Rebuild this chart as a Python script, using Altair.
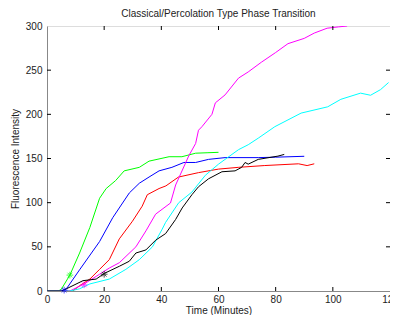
import altair as alt
import pandas as pd

green_t = [0, 4, 5, 8, 11.4, 15, 18.4, 20.7, 24, 27, 32.3, 35.7, 42.7, 47.2, 52, 56, 60]
green_v = [0, 0, 2, 18, 43, 72, 105, 116, 125, 136, 140, 147, 152, 152, 156, 156.5, 157]

blue_t = [0, 5, 6, 6.8, 11.4, 18.4, 23, 28.8, 32.3, 35.7, 39.2, 43.7, 47.9, 52, 56.5, 62.3, 73.9, 80, 90]
blue_v = [0, 0, 1, 2.5, 24, 56, 83, 111, 122, 129, 136, 140, 145.5, 145.5, 149, 151, 151, 151.5, 152.5]

red_t = [0, 9, 11.4, 15, 18.4, 21.8, 25.3, 29.9, 33.3, 35.1, 39.2, 41.6, 46, 53, 60, 67, 76, 88, 91, 93.5]
red_v = [0, 0, 6, 13.5, 24.5, 35.5, 59, 79, 96, 109, 116, 119, 129, 134, 138, 140, 142, 144, 142, 144]

magenta_t = [0, 8, 13, 18.4, 21.8, 25.3, 31.1, 34.6, 38, 43.2, 45, 49.6, 52, 53, 54.2, 57.7, 58.9, 62.3, 67, 70.4, 75, 80, 84.3, 90, 93.5, 98, 102, 105]
magenta_v = [0, 0, 8, 19, 26, 32, 50, 68, 87, 99.6, 120, 153, 167, 182, 186, 200, 213, 222, 241, 248, 259, 270, 280, 286, 292, 297.5, 299, 300]

cyan_t = [0, 8, 11.4, 15, 21.8, 27.6, 32.3, 36.9, 40.3, 41.5, 46.1, 50.7, 55.4, 60, 67, 70.4, 73.9, 79.7, 88.9, 98.2, 102.8, 109.7, 113.2, 116.7, 119.5]
cyan_v = [0, 0, 2.5, 8, 13.5, 24.5, 35.5, 50, 70, 77.7, 100, 112, 131, 143.6, 160, 165.6, 173, 186, 201.4, 208.5, 217, 224, 221.6, 228, 236]

black_t = [0, 5, 6.8, 12.6, 17.2, 20.1, 25.3, 28.8, 31.1, 34.6, 38, 41.5, 45, 47.3, 50.7, 53, 56.5, 61.2, 65.8, 68.1, 69.3, 70.4, 73.9, 80.8, 83]
black_v = [0, 0, 2.5, 11.7, 13.5, 20, 28, 33.7, 43, 46.5, 57.5, 65, 81, 94, 109, 118, 127, 135, 136, 140, 145.5, 143.6, 149, 152.7, 154.6]

marker_series = ["green", "blue", "magenta", "black"]
marker_t = [8, 6, 13, 20]
marker_v = [18, 1, 7, 19]

x_ticks = [0, 20, 40, 60, 80, 100, 120]
y_ticks = [0, 50, 100, 150, 200, 250, 300]

series = {
    "green": (green_t, green_v),
    "blue": (blue_t, blue_v),
    "red": (red_t, red_v),
    "magenta": (magenta_t, magenta_v),
    "cyan": (cyan_t, cyan_v),
    "black": (black_t, black_v),
}
colors = {"green": "#00ff00", "blue": "#0000ff", "red": "#ff0000",
          "magenta": "#ff00ff", "cyan": "#00ffff", "black": "#000000"}

rows = []
for name, (ts, vs) in series.items():
    for i, (t, v) in enumerate(zip(ts, vs)):
        rows.append({"s": name, "t": t, "v": v, "o": i})
df = pd.DataFrame(rows)
mk = pd.DataFrame({"s": marker_series, "t": marker_t, "v": marker_v})

W, H = 343, 265
font = "Liberation Sans"
txt = "#222222"

xs = alt.Scale(domain=[0, 120], nice=False)
ys = alt.Scale(domain=[0, 300], nice=False)
cs = alt.Scale(domain=list(colors.keys()), range=list(colors.values()))

lines = alt.Chart(df).mark_line(strokeWidth=1, clip=True).encode(
    x=alt.X("t:Q", scale=xs, axis=alt.Axis(values=x_ticks, title="Time (Minutes)", tickSize=0,
                                           labelPadding=3, titlePadding=1, grid=False, labelFlush=False,
                                           titleFontWeight=400, titleFont=font, labelFont=font,
                                           titleFontSize=10, labelFontSize=10,
                                           titleColor=txt, labelColor=txt)),
    y=alt.Y("v:Q", scale=ys, axis=alt.Axis(values=y_ticks, title="Fluorescence Intensity", tickSize=0,
                                           labelPadding=5, titlePadding=5, grid=False, labelFlush=False,
                                           titleFontWeight=400, titleFont=font, labelFont=font,
                                           titleFontSize=10, labelFontSize=10,
                                           titleColor=txt, labelColor=txt)),
    color=alt.Color("s:N", scale=cs, legend=None),
    order="o:Q",
    detail="s:N",
)

asterisk = "M-1,0L1,0M0,-1L0,1M-0.7,-0.7L0.7,0.7M-0.7,0.7L0.7,-0.7"
markers = alt.Chart(mk).mark_point(shape=asterisk, size=45, filled=False, strokeWidth=1).encode(
    x=alt.X("t:Q", scale=xs),
    y=alt.Y("v:Q", scale=ys),
    color=alt.Color("s:N", scale=cs, legend=None),
)

xt = pd.DataFrame({"t": x_ticks[1:-1]})
yt = pd.DataFrame({"v": y_ticks[1:-1]})
xtick_b = alt.Chart(xt).mark_rule(color="black", strokeWidth=1).encode(
    x=alt.X("t:Q", scale=xs), y=alt.value(H), y2=alt.value(H - 4))
xtick_t = alt.Chart(xt).mark_rule(color="black", strokeWidth=1).encode(
    x=alt.X("t:Q", scale=xs), y=alt.value(0), y2=alt.value(4))
ytick_l = alt.Chart(yt).mark_rule(color="black", strokeWidth=1).encode(
    y=alt.Y("v:Q", scale=ys), x=alt.value(0), x2=alt.value(4))
ytick_r = alt.Chart(yt).mark_rule(color="black", strokeWidth=1).encode(
    y=alt.Y("v:Q", scale=ys), x=alt.value(W), x2=alt.value(W - 4))

chart = alt.layer(lines, markers, xtick_b, xtick_t, ytick_l, ytick_r).properties(
    width=W, height=H,
    title=alt.TitleParams("Classical/Percolation Type Phase Transition", fontSize=10,
                          font=font, fontWeight=400, color=txt, offset=2),
    autosize=alt.AutoSizeParams(type="none"),
    padding={"left": 39, "top": 18, "right": 0, "bottom": 24},
).configure_view(stroke="black", strokeWidth=1).configure_axis(
    domainColor="black", domainWidth=1,
).configure(background="white")

chart.save("out.html", embed_options={"renderer": "svg", "actions": False})
